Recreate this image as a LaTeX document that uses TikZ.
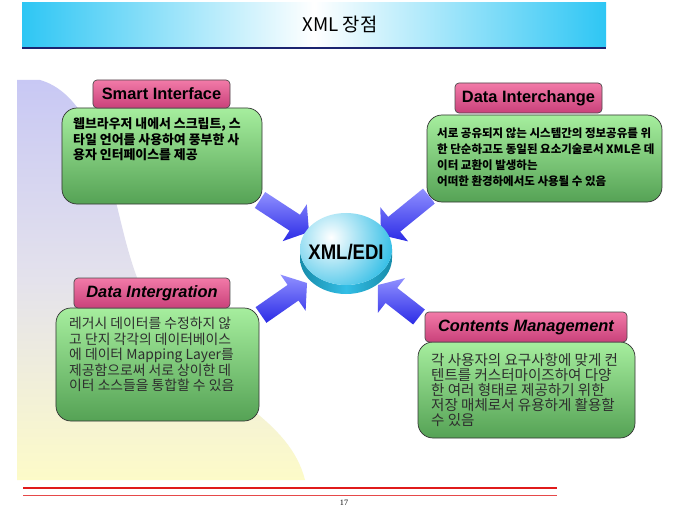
\documentclass[tikz,border=0pt]{standalone}
\usepackage{fontspec}
\setmainfont{Liberation Sans}
\newfontfamily\kr{Noto Sans CJK KR}
\newfontfamily\pnum{Liberation Serif}
\usetikzlibrary{calc}
\definecolor{barcyan}{HTML}{2EC6F4}
\definecolor{navy}{HTML}{1B2470}
\definecolor{lav}{HTML}{C8C8F4}
\definecolor{paleyel}{HTML}{FDFBC8}
\definecolor{midbg}{HTML}{E4E2EC}
\definecolor{gtop}{HTML}{A6EE9E}
\definecolor{gbot}{HTML}{55A255}
\definecolor{ptop}{HTML}{F27AA8}
\definecolor{pbot}{HTML}{C9417A}
\definecolor{atop}{HTML}{9090FF}
\definecolor{abot}{HTML}{2B2BE6}
\definecolor{cyl}{HTML}{33BEE6}
\definecolor{cylside}{HTML}{178CAA}
\definecolor{redline}{HTML}{E01B1B}
\definecolor{txtgray}{HTML}{2E2E2E}
\newcommand\blockarr[2]{%
  \coordinate (#1b) at ($(#2)!0.51cm!(#1)$);
  \shade[arrowfill] ($(#1)!0.285cm!90:(#2)$) -- ($(#1b)!0.285cm!90:(#2)$)
    -- ($(#1b)!0.66cm!90:(#2)$) -- (#2) -- ($(#1b)!0.66cm!-90:(#2)$)
    -- ($(#1b)!0.285cm!-90:(#2)$) -- ($(#1)!0.285cm!-90:(#2)$) -- cycle;}
\begin{document}
\begin{tikzpicture}[x=0.03cm,y=-0.03cm,
  greenbox/.style={draw=black!80, line width=0.6pt, rounded corners=0.45cm,
    top color=gtop, bottom color=gbot, inner sep=0pt},
  pinkbox/.style={draw=black!70, line width=0.6pt, rounded corners=0.12cm,
    top color=ptop, bottom color=pbot, inner sep=0pt},
  labA/.style={font=\fontsize{14}{16}\selectfont\bfseries},
  labB/.style={font=\fontsize{14}{16}\selectfont\bfseries\itshape},
  boldtxt/.style={anchor=north west, inner sep=0pt, align=left, text=black},
  plaintxt/.style={anchor=north west, inner sep=0pt, align=left, text=txtgray},
  arrowfill/.style={top color=atop, bottom color=abot}]
\useasboundingbox (0,0) rectangle (680,510);
\fill[white] (0,0) rectangle (680,510);
% background shape
\shade[top color=lav, bottom color=paleyel, middle color=midbg]
  (17,80) -- (40,80) .. controls (75,90) and (95,130) .. (110,180)
  .. controls (125,230) and (130,290) .. (175,345)
  .. controls (220,395) and (290,420) .. (305,480) -- (17,480) -- cycle;
% title bar
\shade[left color=barcyan, right color=barcyan, middle color=white] (22,3) rectangle (606,47);
\draw[navy, line width=2.2pt] (22,48) -- (606,48);
\node[font=\kr\fontsize{16}{18}\selectfont] (title) at (340,24) {XML 장점};
% bottom lines
\draw[redline, line width=2.4pt] (23,488) -- (557,488);
\draw[redline!80, line width=0.6pt] (23,495) -- (557,495);
\node[font=\pnum\fontsize{7}{8}\selectfont] (pnum) at (344,503) {17};
% arrows
\coordinate (ulT) at (260,200); \coordinate (ulP) at (309,232);
\coordinate (urT) at (429,196); \coordinate (urP) at (381,235);
\coordinate (llT) at (261,315); \coordinate (llP) at (307,283);
\coordinate (lrT) at (419,317); \coordinate (lrP) at (378,285);
\blockarr{ulT}{ulP}
\blockarr{urT}{urP}
\blockarr{llT}{llP}
\blockarr{lrT}{lrP}
% cylinder
\begin{scope}[shift={(346,249)}, x=1cm, y=1cm]
  \shade[left color=cylside, right color=cylside, middle color=cyl]
    (-1.38,0) -- (-1.38,-0.27) arc[start angle=180, end angle=360, x radius=1.38, y radius=1.08]
    -- (1.38,0) arc[start angle=0, end angle=-180, x radius=1.38, y radius=1.08] -- cycle;
  \begin{scope}
    \clip (0,0) ellipse[x radius=1.38, y radius=1.08];
    \shade[inner color=white, outer color=cyl] (-0.45,0.35) circle (1.9);
  \end{scope}
\end{scope}
\node[font=\fontsize{18}{21}\selectfont\bfseries] (xml) at (346,252) {\scalebox{0.88}[1]{XML/EDI}};
% Smart Interface
\node[greenbox, minimum width=6cm, minimum height=2.88cm] (sigbox) at (162,156) {};
\node[pinkbox, minimum width=4.11cm, minimum height=0.84cm, labA] (siglab) at (161.5,94) {Smart Interface};
\node[boldtxt, font=\kr\bfseries\fontsize{11}{13.6}\selectfont] (sigtxt) at (73,117)
  {웹브라우저 내에서 스크립트, 스\\타일 언어를 사용하여 풍부한 사\\용자 인터페이스를 제공};
% Data Interchange
\node[greenbox, minimum width=7.05cm, minimum height=2.61cm] (dibox) at (544.5,158.5) {};
\node[pinkbox, minimum width=4.41cm, minimum height=0.9cm, labA] (dilab) at (528.5,98) {Data Interchange};
\node[boldtxt, font=\kr\bfseries\fontsize{9.8}{13.6}\selectfont] (ditxt) at (437,128)
  {서로 공유되지 않는 시스템간의 정보공유를 위\\한 단순하고도 동일된 요소기술로서 XML은 데\\이터 교환이 발생하는\\어떠한 환경하에서도 사용될 수 있음};
% Data Intergration
\node[greenbox, minimum width=6.09cm, minimum height=3.39cm] (dgbox) at (157.5,364.5) {};
\node[pinkbox, minimum width=4.68cm, minimum height=0.9cm, labB] (dglab) at (152,293) {Data Intergration};
\node[plaintxt, font=\kr\fontsize{11.8}{13.2}\selectfont] (dgtxt) at (69,317)
  {레거시 데이터를 수정하지 않\\고 단지 각각의 데이터베이스\\에 데이터 Mapping Layer를\\제공함으로써 서로 상이한 데\\이터 소스들을 통합할 수 있음};
% Contents Management
\node[greenbox, minimum width=6.51cm, minimum height=2.88cm] (cmbox) at (526.5,390) {};
\node[pinkbox, minimum width=6.06cm, minimum height=0.9cm, labB] (cmlab) at (526,327) {Contents Management};
\node[plaintxt, font=\kr\fontsize{12.4}{12.8}\selectfont] (cmtxt) at (431,353)
  {각 사용자의 요구사항에 맞게 컨\\텐트를 커스터마이즈하여 다양\\한 여러 형태로 제공하기 위한\\저장 매체로서 유용하게 활용할\\수 있음};
\end{tikzpicture}
\end{document}
